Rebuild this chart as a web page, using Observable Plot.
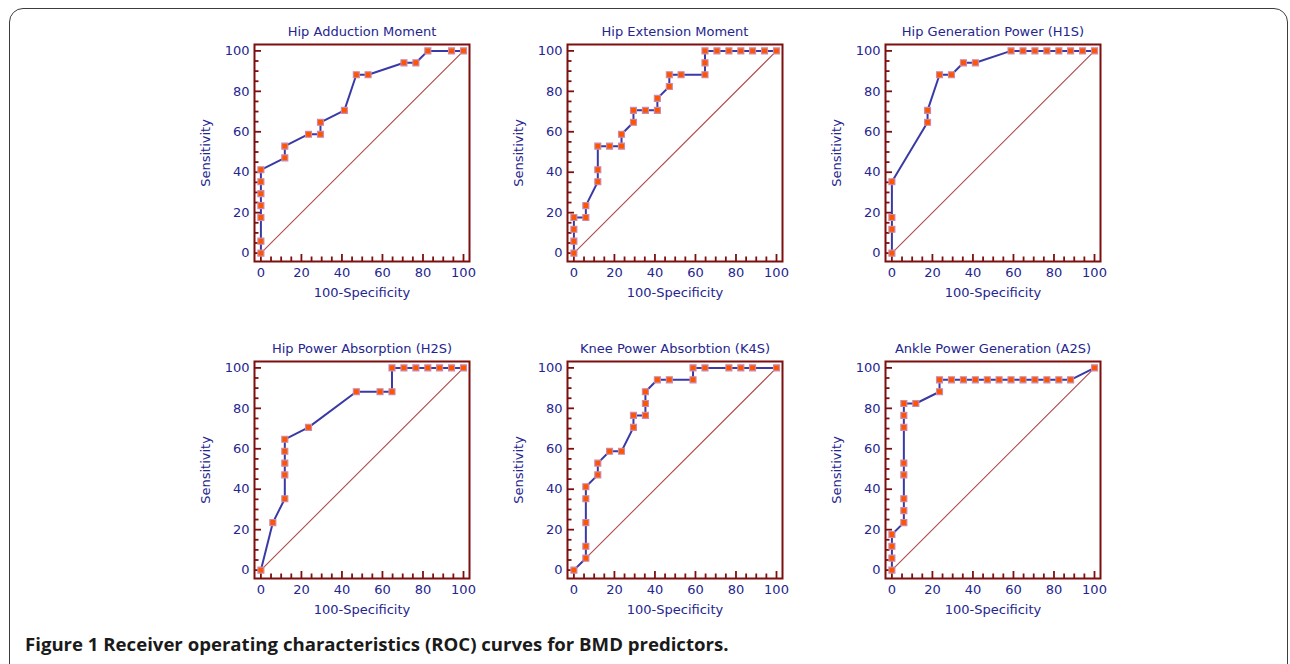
<!DOCTYPE html>
<html>
<head>
<meta charset="utf-8">
<script src="https://cdn.jsdelivr.net/npm/d3@7"></script>
<script src="https://cdn.jsdelivr.net/npm/@observablehq/plot@0.6"></script>
<style>
  html, body { margin: 0; padding: 0; background: #fff; }
  body { width: 1290px; height: 664px; overflow: hidden; position: relative; }
  #box { position: absolute; left: 9px; top: 8px; width: 1279px; height: 700px;
         border: 1.5px solid #3c3c3c; border-radius: 14px; box-sizing: border-box; }
  .panel { position: absolute; }
  .panel svg { overflow: visible; }
  #caption { position: absolute; left: 25px; top: 631px; font-family: "Open Sans", sans-serif;
             font-weight: 700; font-size: 18.6px; color: #1a1a1a; white-space: nowrap; letter-spacing: 0px; }
</style>
</head>
<body>
<div id="box"></div>
<div id="charts"></div>
<div id="caption"></div>
<script>
// ---- data (100-Specificity vs Sensitivity, %) ----
const titles = [
  "Hip Adduction Moment",
  "Hip Extension Moment",
  "Hip Generation Power (H1S)",
  "Hip Power Absorption (H2S)",
  "Knee Power Absorbtion (K4S)",
  "Ankle Power Generation (A2S)"
];

const hipAdductionFpr = [0,0,0,0,0,0,0,11.8,11.8,23.5,29.4,29.4,41.2,47.1,52.9,70.6,76.5,82.4,94.1,100];
const hipAdductionTpr = [0,5.9,17.6,23.5,29.4,35.3,41.2,47.1,52.9,58.8,58.8,64.7,70.6,88.2,88.2,94.1,94.1,100,100,100];

const hipExtensionFpr = [0,0,0,0,5.9,5.9,11.8,11.8,11.8,17.6,23.5,23.5,29.4,29.4,35.3,41.2,41.2,47.1,47.1,52.9,64.7,64.7,64.7,70.6,76.5,82.4,88.2,94.1,100];
const hipExtensionTpr = [0,5.9,11.8,17.6,17.6,23.5,35.3,41.2,52.9,52.9,52.9,58.8,64.7,70.6,70.6,70.6,76.5,82.4,88.2,88.2,88.2,94.1,100,100,100,100,100,100,100];

const hipGenerationFpr = [0,0,0,0,17.6,17.6,23.5,29.4,35.3,41.2,58.8,64.7,70.6,76.5,82.4,88.2,94.1,100];
const hipGenerationTpr = [0,11.8,17.6,35.3,64.7,70.6,88.2,88.2,94.1,94.1,100,100,100,100,100,100,100,100];

const hipAbsorptionFpr = [0,5.9,11.8,11.8,11.8,11.8,11.8,23.5,47.1,58.8,64.7,64.7,70.6,76.5,82.4,88.2,94.1,100];
const hipAbsorptionTpr = [0,23.5,35.3,47.1,52.9,58.8,64.7,70.6,88.2,88.2,88.2,100,100,100,100,100,100,100];

const kneeAbsorptionFpr = [0,5.9,5.9,5.9,5.9,5.9,11.8,11.8,17.6,23.5,29.4,29.4,35.3,35.3,35.3,41.2,47.1,58.8,58.8,64.7,76.5,82.4,88.2,100];
const kneeAbsorptionTpr = [0,5.9,11.8,23.5,35.3,41.2,47.1,52.9,58.8,58.8,70.6,76.5,76.5,82.4,88.2,94.1,94.1,94.1,100,100,100,100,100,100];

const ankleGenerationFpr = [0,0,0,0,5.9,5.9,5.9,5.9,5.9,5.9,5.9,5.9,11.8,23.5,23.5,29.4,35.3,41.2,47.1,52.9,58.8,64.7,70.6,76.5,82.4,88.2,100];
const ankleGenerationTpr = [0,5.9,11.8,17.6,23.5,29.4,35.3,47.1,52.9,70.6,76.5,82.4,82.4,88.2,94.1,94.1,94.1,94.1,94.1,94.1,94.1,94.1,94.1,94.1,94.1,94.1,100];

const labelTicks = [0, 20, 40, 60, 80, 100];
const minorTicks = [5, 10, 15, 25, 30, 35, 45, 50, 55, 65, 70, 75, 85, 90, 95];
const diagonal = [0, 100];
const xLabel = "100-Specificity";
const yLabel = "Sensitivity";
const captionText = "Figure 1 Receiver operating characteristics (ROC) curves for BMD predictors.";

// ---- styling / layout ----
const NAVY = "#25258f";
const FRAME = "#7d0f0f";
const LINE = "#3a3aa6";
const DOT = "#ff5500";
const DOT_EDGE = "#c98bb0";
const DIAG = "#b04a4a";

const xDomain = [-3.16, 102.96];
const yDomain = [-4.15, 103.16];
const ML = 75, MR = 12, MT = 40, MB = 45;
const PW = 215, PH = 217;
const colLeft = [254.3, 566.6, 885.3];
const rowTop = [44.3, 360.9];

const series = [
  [hipAdductionFpr, hipAdductionTpr],
  [hipExtensionFpr, hipExtensionTpr],
  [hipGenerationFpr, hipGenerationTpr],
  [hipAbsorptionFpr, hipAbsorptionTpr],
  [kneeAbsorptionFpr, kneeAbsorptionTpr],
  [ankleGenerationFpr, ankleGenerationTpr]
];

const yUnit = PH / (yDomain[1] - yDomain[0]);
const xUnit = PW / (xDomain[1] - xDomain[0]);
const majorLenY = 7 / yUnit, minorLenY = 4.5 / yUnit;
const majorLenX = 7 / xUnit, minorLenX = 4.5 / xUnit;

document.getElementById("caption").textContent = captionText;

series.forEach(([fpr, tpr], i) => {
  const pts = fpr.map((x, j) => ({x, y: tpr[j]}));
  const chart = Plot.plot({
    width: ML + PW + MR,
    height: MT + PH + MB,
    marginLeft: ML, marginRight: MR, marginTop: MT, marginBottom: MB,
    style: {fontFamily: "DejaVu Sans", fontSize: "13px", color: NAVY, background: "transparent", overflow: "visible"},
    x: {domain: xDomain, axis: null},
    y: {domain: yDomain, axis: null},
    marks: [
      Plot.line(diagonal, {x: d => d, y: d => d, stroke: DIAG, strokeWidth: 1.1}),
      // bottom ticks
      Plot.ruleX(minorTicks, {x: d => d, y1: yDomain[0], y2: yDomain[0] + minorLenY, stroke: FRAME, strokeWidth: 1.8}),
      Plot.ruleX(labelTicks, {x: d => d, y1: yDomain[0], y2: yDomain[0] + majorLenY, stroke: FRAME, strokeWidth: 1.8}),
      // left ticks
      Plot.ruleY(minorTicks, {y: d => d, x1: xDomain[0], x2: xDomain[0] + minorLenX, stroke: FRAME, strokeWidth: 1.8}),
      Plot.ruleY(labelTicks, {y: d => d, x1: xDomain[0], x2: xDomain[0] + majorLenX, stroke: FRAME, strokeWidth: 1.8}),
      Plot.line(pts, {x: "x", y: "y", stroke: LINE, strokeWidth: 2}),
      Plot.dot(pts, {x: "x", y: "y", symbol: "square", r: 3.4, fill: DOT, stroke: DOT_EDGE, strokeWidth: 1.1}),
      Plot.frame({stroke: FRAME, strokeWidth: 2}),
      // tick labels
      Plot.text(labelTicks, {x: d => d, text: d => String(d), frameAnchor: "bottom", lineAnchor: "top", dy: 6, fill: NAVY}),
      Plot.text(labelTicks, {y: d => d, text: d => String(d), frameAnchor: "left", textAnchor: "end", dx: -5, fill: NAVY}),
      // titles
      Plot.text([titles[i]], {text: d => d, frameAnchor: "top", lineAnchor: "middle", dy: -13, fill: NAVY}),
      Plot.text([xLabel], {text: d => d, frameAnchor: "bottom", lineAnchor: "middle", dy: 31.5, fill: NAVY}),
      Plot.text([yLabel], {text: d => d, frameAnchor: "left", textAnchor: "middle", lineAnchor: "middle", rotate: -90, dx: -49, fill: NAVY})
    ]
  });
  const div = document.createElement("div");
  div.className = "panel";
  div.style.left = (colLeft[i % 3] - ML) + "px";
  div.style.top = (rowTop[Math.floor(i / 3)] - MT) + "px";
  div.appendChild(chart);
  document.getElementById("charts").appendChild(div);
});
</script>
</body>
</html>
